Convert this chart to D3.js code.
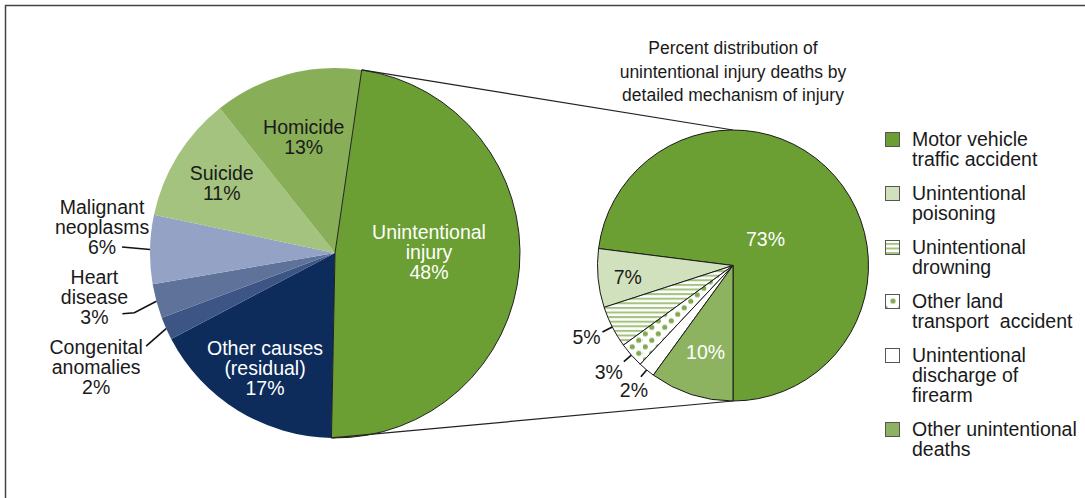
<!DOCTYPE html>
<meta charset="utf-8">
<head>
  <style>
    body { margin: 0; background: #fff; }
    text { font-family: "Liberation Sans", Arial, sans-serif; fill: #1a1a1a; }
  </style>
</head>
<body>
  <script src="https://d3js.org/d3.v7.min.js"></script>
  <script>
    // left pie: leading causes
    var causes = ["Unintentional injury", "Other causes (residual)", "Congenital anomalies",
      "Heart disease", "Malignant neoplasms", "Suicide", "Homicide"];
    var causeValues = [48, 17, 2, 3, 6, 11, 13];
    var causeLabelLines = [["Unintentional", "injury"], ["Other causes", "(residual)"],
      ["Congenital", "anomalies"], ["Heart", "disease"], ["Malignant", "neoplasms"],
      ["Suicide"], ["Homicide"]];

    // right pie: unintentional injury by mechanism
    var mechanisms = ["Motor vehicle traffic accident", "Unintentional poisoning",
      "Unintentional drowning", "Other land transport accident",
      "Unintentional discharge of firearm", "Other unintentional deaths"];
    var mechanismValues = [73, 7, 5, 3, 2, 10];
    var legendLines = [["Motor vehicle", "traffic accident"], ["Unintentional", "poisoning"],
      ["Unintentional", "drowning"], ["Other land", "transport\u00a0 accident"],
      ["Unintentional", "discharge of", "firearm"], ["Other unintentional", "deaths"]];

    var titleLines = ["Percent distribution of", "unintentional injury deaths by",
      "detailed mechanism of injury"];

    var W = 1085, H = 498;
    var svg = d3.select("body").append("svg").attr("width", W).attr("height", H);

    // frame
    svg.append("path").attr("d", "M5.5," + H + "V5.5H" + W)
      .attr("fill", "none").attr("stroke", "#444").attr("stroke-width", 1.5);

    var defs = svg.append("defs");
    var stripes = defs.append("pattern").attr("id", "stripes")
      .attr("patternUnits", "userSpaceOnUse").attr("width", 8).attr("height", 4.6);
    stripes.append("rect").attr("width", 8).attr("height", 4.6).attr("fill", "#fff");
    stripes.append("rect").attr("width", 8).attr("height", 2).attr("fill", "#a3c37e");

    var dots = defs.append("pattern").attr("id", "dots")
      .attr("patternUnits", "userSpaceOnUse").attr("width", 13).attr("height", 13);
    dots.append("rect").attr("width", 13).attr("height", 13).attr("fill", "#fff");
    dots.append("circle").attr("cx", 3.25).attr("cy", 3.25).attr("r", 2.6).attr("fill", "#80ab4f");
    dots.append("circle").attr("cx", 9.75).attr("cy", 9.75).attr("r", 2.6).attr("fill", "#80ab4f");

    var dotSwatch = defs.append("pattern").attr("id", "dotswatch")
      .attr("patternUnits", "objectBoundingBox").attr("width", 1).attr("height", 1);
    dotSwatch.append("rect").attr("width", 15).attr("height", 15).attr("fill", "#fff");
    dotSwatch.append("circle").attr("cx", 7.5).attr("cy", 6.5).attr("r", 2.6).attr("fill", "#80ab4f");
    dotSwatch.append("path").attr("d", "M0,11 Q2,11 3,15 H0Z M15,11 Q13,11 12,15 H15Z").attr("fill", "#80ab4f");

    var leftColor = d3.scaleOrdinal().domain(causes)
      .range(["#6b9e33", "#0d2b5b", "#3c5585", "#5f7299", "#94a2c6", "#a3c37e", "#88af58"]);
    var rightFill = d3.scaleOrdinal().domain(mechanisms)
      .range(["#6b9e33", "#d1e1bd", "url(#stripes)", "url(#dots)", "#fff", "#8eb360"]);
    var swatchFill = d3.scaleOrdinal().domain(mechanisms)
      .range(["#6b9e33", "#d1e1bd", "url(#stripes)", "url(#dotswatch)", "#fff", "#8eb360"]);

    var fs = 19.5, lh = 20;
    var deg = Math.PI / 180;

    // ---------- left pie ----------
    var c1 = { x: 335, y: 253 }, r1 = 185;
    var pie1 = d3.pie().sort(null).startAngle(8.3 * deg).endAngle(8.3 * deg + 2 * Math.PI);
    var arcs1 = pie1(causeValues);
    var arc1 = d3.arc().innerRadius(0).outerRadius(r1);

    var g1 = svg.append("g").attr("transform", "translate(" + c1.x + "," + c1.y + ")");
    g1.selectAll("path.slice").data(arcs1).enter().append("path")
      .attr("class", "slice")
      .attr("d", arc1)
      .attr("fill", function (d, i) { return leftColor(causes[i]); });
    // outline of the unintentional slice
    g1.append("path").attr("d", arc1(arcs1[0])).attr("fill", "none").attr("stroke", "#222").attr("stroke-width", 1);

    function pt(angle, r) { return [r * Math.sin(angle), -r * Math.cos(angle)]; }
    function mid(d) { return (d.startAngle + d.endAngle) / 2; }

    function block(g, x, y, lines, color) {
      var n = lines.length;
      var t = g.append("text").attr("text-anchor", "middle").style("font-size", fs + "px").style("fill", color);
      lines.forEach(function (s, k) {
        t.append("tspan").attr("x", x).attr("y", y + (k - (n - 1) / 2) * lh).attr("dy", "0.35em").text(s);
      });
    }

    // inside labels (radius as share of r1, small vertical nudge)
    var inside1 = {
      0: { r: 0.51, dy: -9, col: "#fff" },
      1: { r: 0.72, dy: 2, col: "#fff" },
      5: { r: 0.72, dy: 0, col: "#1a1a1a" },
      6: { r: 0.65, dy: 0, col: "#1a1a1a" }
    };
    Object.keys(inside1).forEach(function (k) {
      var d = arcs1[k], o = inside1[k];
      var p = pt(mid(d), r1 * o.r);
      block(g1, p[0], p[1] + o.dy, causeLabelLines[k].concat([causeValues[k] + "%"]), o.col);
    });

    // outside labels with leaders: offsets from arc edge point
    var outside1 = {
      4: { leader: [[-28, -2.5]], text: [-48, -2.5], anchorLine: 2 },
      3: { leader: [[-22, 11.5], [-34, 12.5]], text: [-62, 15.5], anchorLine: 2 },
      2: { leader: [[-20, 17.5]], text: [-70, 18.5], anchorLine: 0 }
    };
    Object.keys(outside1).forEach(function (k) {
      var d = arcs1[k], o = outside1[k];
      var p = pt(mid(d), r1);
      var pts = [p].concat(o.leader.map(function (q) { return [p[0] + q[0], p[1] + q[1]]; }));
      g1.append("path").attr("d", d3.line()(pts)).attr("fill", "none").attr("stroke", "#111").attr("stroke-width", 1.6);
      var lines = causeLabelLines[k].concat([causeValues[k] + "%"]);
      var n = lines.length;
      var cy = p[1] + o.text[1] - (o.anchorLine - (n - 1) / 2) * lh;
      block(g1, p[0] + o.text[0], cy, lines, "#1a1a1a");
    });

    // ---------- right pie ----------
    var c2 = { x: 733, y: 265.5 }, r2 = 135.5;
    var pie2 = d3.pie().sort(null).startAngle(Math.PI).endAngle(-Math.PI);
    var arcs2 = pie2(mechanismValues);
    var arc2 = d3.arc().innerRadius(0).outerRadius(r2);

    // connector lines
    var a0 = pt(arcs1[0].startAngle, r1), a1 = pt(arcs1[0].endAngle, r1);
    svg.append("line").attr("x1", c1.x + a0[0]).attr("y1", c1.y + a0[1])
      .attr("x2", c2.x).attr("y2", c2.y - r2).attr("stroke", "#222").attr("stroke-width", 1.2);
    svg.append("line").attr("x1", c1.x + a1[0]).attr("y1", c1.y + a1[1])
      .attr("x2", c2.x).attr("y2", c2.y + r2).attr("stroke", "#222").attr("stroke-width", 1.2);

    var g2 = svg.append("g").attr("transform", "translate(" + c2.x + "," + c2.y + ")");
    g2.selectAll("path.slice").data(arcs2).enter().append("path")
      .attr("class", "slice")
      .attr("d", arc2)
      .attr("fill", function (d, i) { return rightFill(mechanisms[i]); })
      .attr("stroke", "#1a1a1a").attr("stroke-width", 1);

    var insideR2 = { 0: 0.32, 1: 0.78, 5: 0.655 };
    var insideCol2 = { 0: "#fff", 1: "#1a1a1a", 5: "#fff" };
    Object.keys(insideR2).forEach(function (k) {
      var p = pt(mid(arcs2[k]), r2 * insideR2[k]);
      block(g2, p[0], p[1] + 2, [mechanismValues[k] + "%"], insideCol2[k]);
    });

    var outside2 = { 2: { len: 11, text: [-16, 5] }, 3: { len: 10, text: [-15, 10] }, 4: { len: 9, text: [-7, 13] } };
    Object.keys(outside2).forEach(function (k) {
      var o = outside2[k], a = mid(arcs2[k]);
      var p = pt(a, r2), q = pt(a, r2 + o.len);
      g2.append("line").attr("x1", p[0]).attr("y1", p[1]).attr("x2", q[0]).attr("y2", q[1])
        .attr("stroke", "#111").attr("stroke-width", 1.6);
      block(g2, q[0] + o.text[0], q[1] + o.text[1], [mechanismValues[k] + "%"], "#1a1a1a");
    });

    // title
    var title = svg.append("text").attr("text-anchor", "middle").style("font-size", "17.5px");
    titleLines.forEach(function (s, k) {
      title.append("tspan").attr("x", c2.x).attr("y", 48 + k * 23.5).attr("dy", "0.35em").text(s);
    });

    // legend
    var ly = 139.5;
    var legend = svg.append("g");
    mechanisms.forEach(function (m, i) {
      var gi = legend.append("g").attr("transform", "translate(885," + ly + ")");
      gi.append("rect").attr("x", 0.5).attr("y", -7).attr("width", 14).attr("height", 14)
        .attr("fill", swatchFill(m)).attr("stroke", "#555").attr("stroke-width", 1);
      var t = gi.append("text").style("font-size", fs + "px");
      legendLines[i].forEach(function (s, k) {
        t.append("tspan").attr("x", 27).attr("y", k * lh).attr("dy", "0.35em").text(s);
      });
      ly += legendLines[i].length * lh + 14;
    });
  </script>
</body>
